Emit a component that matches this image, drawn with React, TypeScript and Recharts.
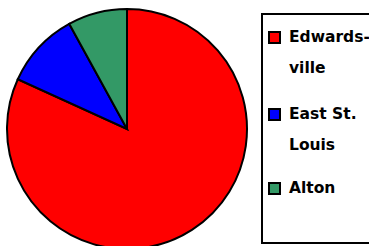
import React from "react";
import { PieChart, Pie, Cell, Legend } from "recharts";

const categories = ["Edwardsville", "East St. Louis", "Alton"];
const legendLines = [["Edwards-", "ville"], ["East St.", "Louis"], ["Alton"]];
const values = [81.8, 10.2, 8.0];
const colors = ["#FF0000", "#0000FF", "#339966"];

const data = categories.map((name, i) => ({ name, value: values[i] }));

const itemTops = [7, 84, 158];

const renderLegend = () => (
  <div style={{ position: "relative", width: "100%", height: "100%" }}>
    {legendLines.map((lines, i) => (
      <div key={i} style={{ position: "absolute", left: 5, top: itemTops[i], display: "flex", alignItems: "flex-start" }}>
        <div
          style={{
            width: 9,
            height: 9,
            background: colors[i],
            border: "2px solid #000",
            marginTop: 9,
            marginRight: 8,
            flexShrink: 0,
          }}
        />
        <div style={{ fontFamily: "'DejaVu Sans', sans-serif", fontWeight: 700, fontSize: 15.5, lineHeight: "31px", color: "#000", whiteSpace: "nowrap" }}>
          {lines.map((l, j) => (
            <div key={j}>{l}</div>
          ))}
        </div>
      </div>
    ))}
  </div>
);

export default function App() {
  return (
    <div style={{ position: "absolute", left: 0, top: 0, width: 369, height: 246, overflow: "hidden", background: "#fff" }}>
      <PieChart width={369} height={246} margin={{ top: 0, right: 0, bottom: 0, left: 0 }}>
        <Pie
          data={data}
          dataKey="value"
          nameKey="name"
          cx={127}
          cy={129}
          outerRadius={120}
          startAngle={90}
          endAngle={-270}
          stroke="#000"
          strokeWidth={2}
          isAnimationActive={false}
        >
          {data.map((d, i) => (
            <Cell key={d.name} fill={colors[i]} />
          ))}
        </Pie>
        <Legend
          content={renderLegend}
          wrapperStyle={{
            position: "absolute",
            left: 261,
            top: 13,
            width: 120,
            height: 231,
            border: "2px solid #000",
            boxSizing: "border-box",
            background: "#fff",
          }}
        />
      </PieChart>
    </div>
  );
}
